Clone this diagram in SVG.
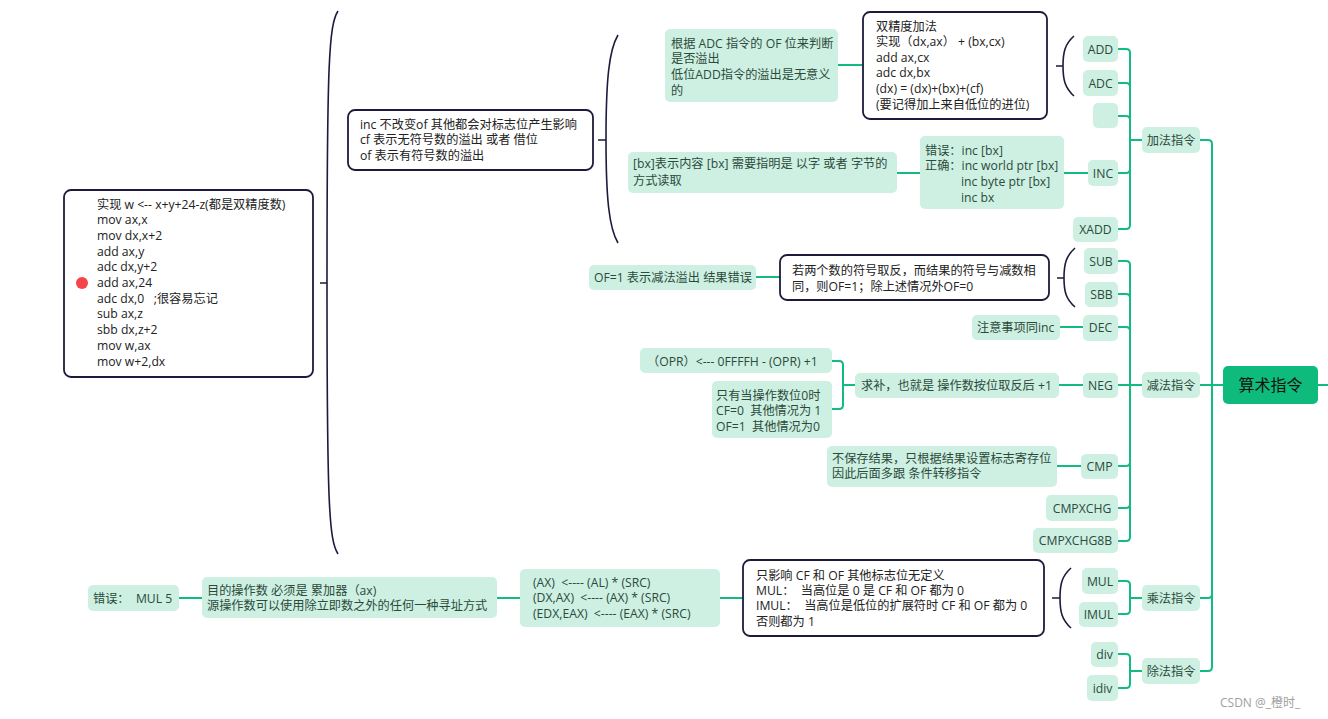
<svg xmlns="http://www.w3.org/2000/svg" width="1328" height="719" viewBox="0 0 1328 719">
<style>
text{font-family:"Open Sans","Noto Sans CJK SC",sans-serif;font-size:12.2px;white-space:pre}
.g{fill:#cdf0e3}
.gt{fill:#2c4a3a}
.d{fill:#fff;stroke:#1c1b3d;stroke-width:1.8}
.dt{fill:#222}
.c{fill:none;stroke:#12bb7e;stroke-width:2;stroke-linecap:round}
.b{fill:none;stroke:#1c1b3d;stroke-width:1.6}
.m{text-anchor:middle}
</style>
<rect width="1328" height="719" fill="#fff"/>
<g id="connectors">
<path class="c" d="M1318,385 H1328"/>
<path class="c" d="M1200,140 H1208 Q1212,140 1212,144 V385 H1223"/>
<path class="c" d="M1200,385 H1223"/>
<path class="c" d="M1200,598 H1208 Q1212,598 1212,594 V385"/>
<path class="c" d="M1200,671 H1208 Q1212,671 1212,667 V590"/>
<path class="c" d="M1118,49 H1126 Q1130,49 1130,53 V140 H1142"/>
<path class="c" d="M1118,83 H1126 Q1130,83 1130,87 V140"/>
<path class="c" d="M1118,116 H1126 Q1130,116 1130,120 V140"/>
<path class="c" d="M1118,173 H1126 Q1130,173 1130,169 V140"/>
<path class="c" d="M1118,229 H1126 Q1130,229 1130,225 V140"/>
<path class="c" d="M1118,261 H1126 Q1130,261 1130,265 V385 H1142"/>
<path class="c" d="M1118,294 H1126 Q1130,294 1130,298 V385"/>
<path class="c" d="M1118,327 H1126 Q1130,327 1130,331 V385"/>
<path class="c" d="M1118,385 H1142"/>
<path class="c" d="M1118,466 H1126 Q1130,466 1130,462 V385"/>
<path class="c" d="M1118,508 H1126 Q1130,508 1130,504 V385"/>
<path class="c" d="M1118,541 H1126 Q1130,541 1130,537 V385"/>
<path class="c" d="M1118,581 H1126 Q1130,581 1130,585 V598 H1142"/>
<path class="c" d="M1118,614 H1126 Q1130,614 1130,610 V598"/>
<path class="c" d="M1118,654 H1126 Q1130,654 1130,658 V671 H1142"/>
<path class="c" d="M1118,688 H1126 Q1130,688 1130,684 V671"/>
<path class="c" d="M838,65 H863"/>
<path class="c" d="M897,173 H920"/>
<path class="c" d="M1064,173 H1088"/>
<path class="c" d="M756,277 H780"/>
<path class="c" d="M1060,327 H1083"/>
<path class="c" d="M1059,385 H1083"/>
<path class="c" d="M855,385 H843"/>
<path class="c" d="M832,361 H839 Q843,361 843,365 V405 Q843,409 839,409 H832"/>
<path class="c" d="M1057,466 H1081"/>
<path class="c" d="M720,598 H743"/>
<path class="c" d="M497,598 H520"/>
<path class="c" d="M179,598 H202"/>
<path class="b" d="M338,11 C329,25 327,60 327,283 C327,506 329,540 338,554 M320,283 H327"/>
<path class="b" d="M618,35 C609,50 606,80 606,139 C606,198 609,228 618,243 M598,140 H606"/>
<path class="b" d="M1074,36 C1065,44 1063,52 1063,66 C1063,80 1065,88 1074,96 M1056,66 H1063"/>
<path class="b" d="M1075,248 C1066,256 1064,264 1064,278 C1064,292 1066,299 1075,307 M1057,278 H1064"/>
<path class="b" d="M1071,568 C1062,576 1060,584 1060,598 C1060,612 1062,620 1071,628 M1052,598 H1060"/>
</g>
<g id="n-root"><rect x="1223" y="366" width="95" height="38" rx="5" fill="#0fbb7c"/><text x="1270.5" y="391" class="m" style="font-size:16px" fill="#111">算术指令</text></g>
<g id="n-add"><rect class="g" x="1142" y="127" width="58" height="26" rx="5"/><text class="gt m" x="1171" y="144.5">加法指令</text></g>
<g id="n-sub"><rect class="g" x="1142" y="372" width="58" height="26" rx="5"/><text class="gt m" x="1171" y="389.5">减法指令</text></g>
<g id="n-mul"><rect class="g" x="1142" y="585" width="58" height="26" rx="5"/><text class="gt m" x="1171" y="602.5">乘法指令</text></g>
<g id="n-div"><rect class="g" x="1142" y="658" width="58" height="26" rx="5"/><text class="gt m" x="1171" y="675.5">除法指令</text></g>
<g id="n-ADD"><rect class="g" x="1083" y="36" width="35" height="26" rx="5"/><text class="gt m" x="1100.5" y="53.5">ADD</text></g>
<g id="n-ADC"><rect class="g" x="1083" y="70" width="35" height="26" rx="5"/><text class="gt m" x="1100.5" y="87.5">ADC</text></g>
<g id="n-empty"><rect class="g" x="1093" y="103" width="25" height="25" rx="5"/></g>
<g id="n-INC"><rect class="g" x="1088" y="160" width="30" height="26" rx="5"/><text class="gt m" x="1103" y="177.5">INC</text></g>
<g id="n-XADD"><rect class="g" x="1073" y="217" width="45" height="25" rx="5"/><text class="gt m" x="1095.5" y="234">XADD</text></g>
<g id="n-SUB"><rect class="g" x="1084" y="248" width="34" height="26" rx="5"/><text class="gt m" x="1101" y="265.5">SUB</text></g>
<g id="n-SBB"><rect class="g" x="1085" y="282" width="33" height="25" rx="5"/><text class="gt m" x="1101.5" y="299">SBB</text></g>
<g id="n-DEC"><rect class="g" x="1083" y="315" width="35" height="26" rx="5"/><text class="gt m" x="1100.5" y="332">DEC</text></g>
<g id="n-NEG"><rect class="g" x="1083" y="373" width="35" height="25" rx="5"/><text class="gt m" x="1100.5" y="389.5">NEG</text></g>
<g id="n-CMP"><rect class="g" x="1081" y="454" width="37" height="25" rx="5"/><text class="gt m" x="1099.5" y="470.5">CMP</text></g>
<g id="n-CMPXCHG"><rect class="g" x="1046" y="495" width="72" height="26" rx="5"/><text class="gt m" x="1082" y="512.5">CMPXCHG</text></g>
<g id="n-CMPXCHG8B"><rect class="g" x="1033" y="528" width="85" height="25" rx="5"/><text class="gt m" x="1075.5" y="545">CMPXCHG8B</text></g>
<g id="n-MUL"><rect class="g" x="1082" y="568" width="36" height="26" rx="5"/><text class="gt m" x="1100" y="585.5">MUL</text></g>
<g id="n-IMUL"><rect class="g" x="1079" y="602" width="39" height="25" rx="5"/><text class="gt m" x="1098.5" y="618.5">IMUL</text></g>
<g id="n-div2"><rect class="g" x="1091" y="642" width="27" height="25" rx="5"/><text class="gt m" x="1104.5" y="658.5">div</text></g>
<g id="n-idiv"><rect class="g" x="1087" y="675" width="31" height="26" rx="5"/><text class="gt m" x="1102.5" y="692.5">idiv</text></g>
<g id="n-adcnote"><rect class="g" x="665" y="29" width="173" height="73" rx="5"/><text class="gt" x="671" y="47.5"><tspan x="671">根据 ADC 指令的 OF 位来判断</tspan><tspan x="671" dy="15.7">是否溢出</tspan><tspan x="671" dy="15.7">低位ADD指令的溢出是无意义</tspan><tspan x="671" dy="15.7">的</tspan></text></g>
<g id="n-double"><rect class="d" x="863" y="12" width="184" height="107" rx="7"/><text class="dt" x="876" y="30.5"><tspan x="876">双精度加法</tspan><tspan x="876" dy="15.6">实现（dx,ax） + (bx,cx)</tspan><tspan x="876" dy="15.6">add ax,cx</tspan><tspan x="876" dy="15.6">adc dx,bx</tspan><tspan x="876" dy="15.6">(dx) = (dx)+(bx)+(cf)</tspan><tspan x="876" dy="15.6">(要记得加上来自低位的进位)</tspan></text></g>
<g id="n-bx"><rect class="g" x="628" y="152" width="269" height="41" rx="5"/><text class="gt" x="633" y="168"><tspan x="633">[bx]表示内容 [bx] 需要指明是 以字 或者 字节的</tspan><tspan x="633" dy="16.5">方式读取</tspan></text></g>
<g id="n-incerr"><rect class="g" x="920" y="136" width="144" height="73" rx="5"/><text class="gt" x="925" y="154.5"><tspan x="925">错误：inc [bx]</tspan><tspan x="925" dy="15.7">正确：inc world ptr [bx]</tspan><tspan x="961" dy="15.7">inc byte ptr [bx]</tspan><tspan x="961" dy="15.7">inc bx</tspan></text></g>
<g id="n-incnote"><rect class="d" x="348" y="110" width="245" height="60" rx="7"/><text class="dt" x="360" y="128.5"><tspan x="360">inc 不改变of 其他都会对标志位产生影响</tspan><tspan x="360" dy="15.6">cf 表示无符号数的溢出 或者 借位</tspan><tspan x="360" dy="15.6">of 表示有符号数的溢出</tspan></text></g>
<g id="n-code"><rect class="d" x="64" y="190" width="249" height="187" rx="7"/><circle cx="82" cy="283" r="6" fill="#f5434b"/><text class="dt" x="97" y="208.5"><tspan x="97">实现 w &lt;-- x+y+24-z(都是双精度数)</tspan><tspan x="97" dy="15.7">mov ax,x</tspan><tspan x="97" dy="15.7">mov dx,x+2</tspan><tspan x="97" dy="15.7">add ax,y</tspan><tspan x="97" dy="15.7">adc dx,y+2</tspan><tspan x="97" dy="15.7">add ax,24</tspan><tspan x="97" dy="15.7">adc dx,0   ;很容易忘记</tspan><tspan x="97" dy="15.7">sub ax,z</tspan><tspan x="97" dy="15.7">sbb dx,z+2</tspan><tspan x="97" dy="15.7">mov w,ax</tspan><tspan x="97" dy="15.7">mov w+2,dx</tspan></text></g>
<g id="n-ofsub"><rect class="d" x="780" y="255" width="269" height="45" rx="7"/><text class="dt" x="792" y="274.5"><tspan x="792">若两个数的符号取反，而结果的符号与减数相</tspan><tspan x="792" dy="16">同，则OF=1；除上述情况外OF=0</tspan></text></g>
<g id="n-of1"><rect class="g" x="589" y="265" width="167" height="25" rx="5"/><text class="gt" x="594" y="281.5">OF=1 表示减法溢出 结果错误</text></g>
<g id="n-decnote"><rect class="g" x="972" y="315" width="88" height="25" rx="5"/><text class="gt" x="977" y="331.5">注意事项同inc</text></g>
<g id="n-neg"><rect class="g" x="855" y="373" width="204" height="25" rx="5"/><text class="gt" x="861" y="389.5">求补，也就是 操作数按位取反后 +1</text></g>
<g id="n-opr"><rect class="g" x="640" y="348" width="192" height="25" rx="5"/><text class="gt" x="647" y="365.5">（OPR）&lt;--- 0FFFFH - (OPR) +1</text></g>
<g id="n-negflags"><rect class="g" x="712" y="381" width="120" height="57" rx="5"/><text class="gt" x="716" y="399.5"><tspan x="716">只有当操作数位0时</tspan><tspan x="716" dy="15.6">CF=0  其他情况为 1</tspan><tspan x="716" dy="15.6">OF=1  其他情况为0</tspan></text></g>
<g id="n-cmpnote"><rect class="g" x="827" y="446" width="230" height="41" rx="5"/><text class="gt" x="832" y="462.5"><tspan x="832">不保存结果，只根据结果设置标志寄存位</tspan><tspan x="832" dy="15.6">因此后面多跟 条件转移指令</tspan></text></g>
<g id="n-mulflags"><rect class="d" x="743" y="560" width="301" height="76" rx="7"/><text class="dt" x="756" y="579.5"><tspan x="756">只影响 CF 和 OF 其他标志位无定义</tspan><tspan x="756" dy="15.4">MUL：  当高位是 0 是 CF 和 OF 都为 0</tspan><tspan x="756" dy="15.4">IMUL：  当高位是低位的扩展符时 CF 和 OF 都为 0</tspan><tspan x="756" dy="15.4">否则都为 1</tspan></text></g>
<g id="n-mulforms"><rect class="g" x="520" y="569" width="200" height="58" rx="5"/><text class="gt" x="533" y="586.5"><tspan x="533">(AX)  &lt;---- (AL) * (SRC)</tspan><tspan x="533" dy="15.5">(DX,AX)  &lt;---- (AX) * (SRC)</tspan><tspan x="533" dy="15.5">(EDX,EAX)  &lt;---- (EAX) * (SRC)</tspan></text></g>
<g id="n-mulop"><rect class="g" x="202" y="577" width="295" height="41" rx="5"/><text class="gt" x="207" y="594.5"><tspan x="207">目的操作数 必须是 累加器（ax)</tspan><tspan x="207" dy="15.6">源操作数可以使用除立即数之外的任何一种寻址方式</tspan></text></g>
<g id="n-mulerr"><rect class="g" x="88" y="585" width="91" height="26" rx="5"/><text class="gt" x="93" y="602.5">错误：  MUL 5</text></g>
<text x="1220" y="707" fill="#a0a0a0" style="font-size:12px">CSDN @_橙时_</text>
</svg>
